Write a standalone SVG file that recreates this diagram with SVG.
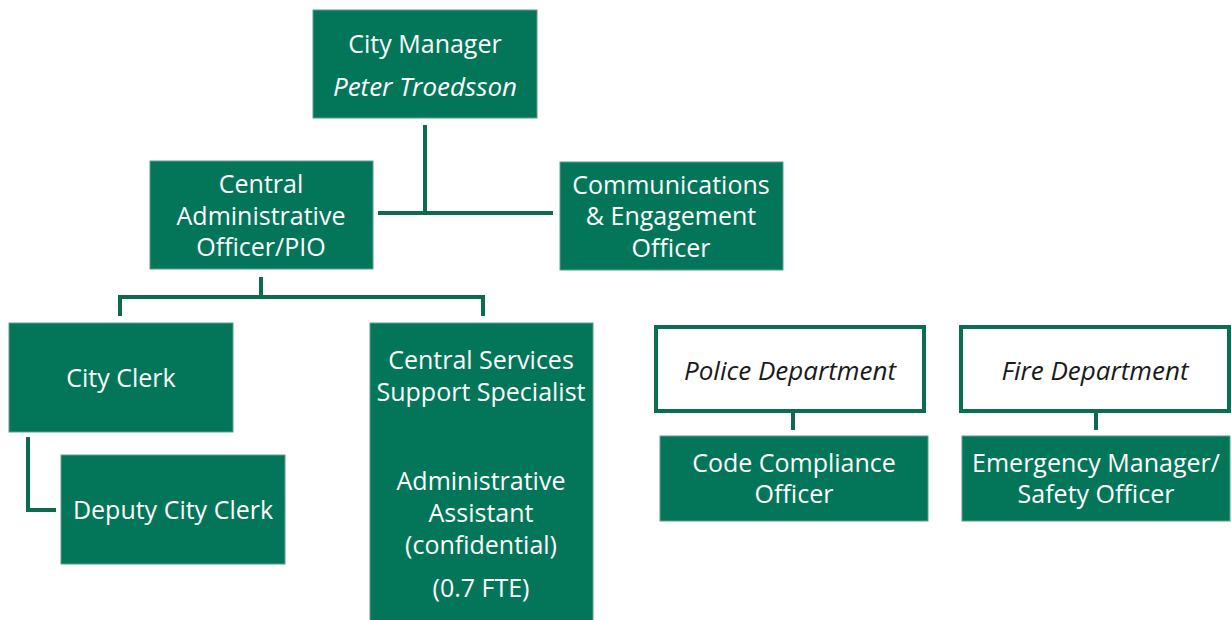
<svg xmlns="http://www.w3.org/2000/svg" width="1231" height="620" viewBox="0 0 1231 620">
<style>
.box{fill:#03765A;stroke:#5E9E8A;stroke-width:1}
.dept{fill:#fff;stroke:#0B6E52;stroke-width:4}
.t{font-family:"Open Sans","Noto Sans",sans-serif;font-size:25px;fill:#fff;text-anchor:middle}
.i{font-style:italic;font-size:26px}
.d{fill:#1a1a1a}
.ln{stroke:#0B6A4F;stroke-width:4;fill:none}
</style>
<rect width="1231" height="620" fill="#fff"/>
<g id="connectors">
<path class="ln" d="M425 125V215M378 213H553"/>
<path class="ln" d="M261 277V297M120 297H483M120 295V316M483 295V316"/>
<path class="ln" d="M28 437V510H56"/>
<path class="ln" d="M793 412V430"/>
<path class="ln" d="M1096 412V430"/>
</g>
<g id="city-manager">
<rect class="box" x="313" y="10" width="224" height="108"/>
<text class="t" x="425" y="53">City Manager</text>
<text class="t i" x="425" y="96">Peter Troedsson</text>
</g>
<g id="central-admin">
<rect class="box" x="150" y="161" width="223" height="108"/>
<text class="t" x="261" y="193">Central</text>
<text class="t" x="261" y="225">Administrative</text>
<text class="t" x="261" y="256">Officer/PIO</text>
</g>
<g id="communications">
<rect class="box" x="560" y="162" width="223" height="108"/>
<text class="t" x="671" y="194">Communications</text>
<text class="t" x="671" y="225">&amp; Engagement</text>
<text class="t" x="671" y="257">Officer</text>
</g>
<g id="city-clerk">
<rect class="box" x="9" y="323" width="224" height="109"/>
<text class="t" x="121" y="387">City Clerk</text>
</g>
<g id="deputy-city-clerk">
<rect class="box" x="61" y="455" width="224" height="109"/>
<text class="t" x="173" y="519">Deputy City Clerk</text>
</g>
<g id="central-services">
<rect class="box" x="370" y="323" width="223" height="300"/>
<text class="t" x="481" y="369">Central Services</text>
<text class="t" x="481" y="401">Support Specialist</text>
<text class="t" x="481" y="490">Administrative</text>
<text class="t" x="481" y="522">Assistant</text>
<text class="t" x="481" y="554">(confidential)</text>
<text class="t" x="481" y="597">(0.7 FTE)</text>
</g>
<g id="police-department">
<rect class="dept" x="656" y="327" width="268" height="84"/>
<text class="t i d" x="790" y="380">Police Department</text>
</g>
<g id="code-compliance">
<rect class="box" x="660" y="436" width="268" height="85"/>
<text class="t" x="794" y="472">Code Compliance</text>
<text class="t" x="794" y="503">Officer</text>
</g>
<g id="fire-department">
<rect class="dept" x="961" y="327" width="268" height="84"/>
<text class="t i d" x="1095" y="380">Fire Department</text>
</g>
<g id="emergency-manager">
<rect class="box" x="962" y="436" width="268" height="85"/>
<text class="t" x="1096" y="472">Emergency Manager/</text>
<text class="t" x="1096" y="503">Safety Officer</text>
</g>
</svg>
